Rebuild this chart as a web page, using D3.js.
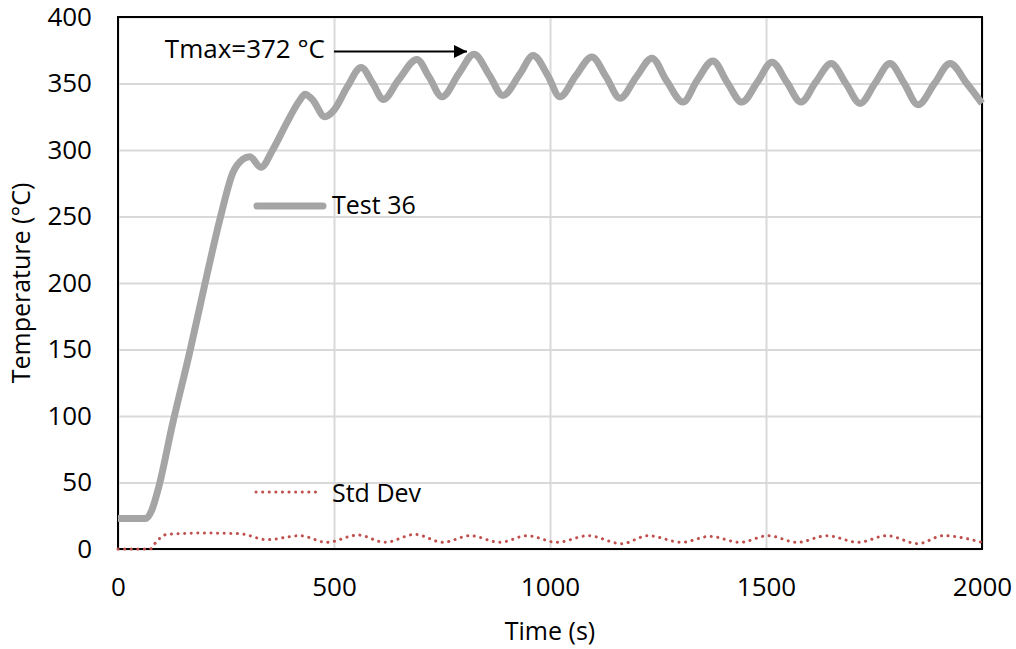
<!DOCTYPE html>
<html>
<head>
<meta charset="utf-8">
<script src="https://cdn.jsdelivr.net/npm/d3@7"></script>
<style>
body { margin: 0; background: #fff; }
text { font-family: "Open Sans", sans-serif; fill: #000; }
</style>
</head>
<body>
<script>
// Test 36 temperature trace (time s, temp °C)
var testTime = [0, 65, 78, 93, 127, 166, 201, 236, 266, 289, 305, 331, 358, 390, 420, 433, 450, 479, 500, 530, 563, 590, 614, 650, 692, 720, 750, 790, 824, 860, 891, 930, 961, 995, 1023, 1060, 1097, 1130, 1162, 1200, 1236, 1270, 1308, 1340, 1377, 1410, 1444, 1480, 1514, 1548, 1581, 1615, 1651, 1685, 1718, 1752, 1787, 1820, 1852, 1890, 1926, 1965, 2000];
var testTemp = [23, 23, 29, 45, 95, 148, 199, 248, 283, 293, 295, 287, 300, 320, 337, 342, 338, 325, 330, 347, 362, 350, 338, 353, 368, 355, 340, 358, 372, 356, 341, 357, 371, 356, 340, 356, 370, 355, 339, 355, 369, 352, 336, 352, 367, 351, 336, 351, 366, 351, 336, 351, 365, 350, 335, 350, 365, 350, 334, 350, 365, 350, 335];

// Std Dev trace
var sdTime = [0, 74, 90, 113, 200, 282, 345, 421, 483, 556, 618, 688, 752, 815, 884, 947, 1016, 1088, 1166, 1227, 1305, 1370, 1440, 1505, 1572, 1641, 1713, 1780, 1852, 1910, 2000];
var sdValue = [0, 0, 6, 11, 12, 11.5, 7, 10, 5, 10.5, 5, 11, 5, 10, 5, 10, 5, 10, 4, 10, 5, 9.5, 5, 10, 5, 10, 5, 10, 4, 10, 5];

var xTicks = [0, 500, 1000, 1500, 2000];
var yTicks = [0, 50, 100, 150, 200, 250, 300, 350, 400];

var margin = {left: 118, top: 17, right: 34, bottom: 100};
var W = 1016, H = 649;
var w = W - margin.left - margin.right, h = H - margin.top - margin.bottom;

var svg = d3.select('body').append('svg')
    .attr('width', W)
    .attr('height', H);

var g = svg.append('g').attr('transform', 'translate(' + margin.left + ',' + margin.top + ')');

var x = d3.scaleLinear().domain([0, 2000]).range([0, w]);
var y = d3.scaleLinear().domain([0, 400]).range([h, 0]);

// gridlines + tick labels
var yAxis = g.append('g')
    .call(d3.axisLeft(y).tickValues(yTicks).tickSize(-w).tickPadding(26).tickFormat(d3.format('d')));
var xAxis = g.append('g')
    .attr('transform', 'translate(0,' + h + ')')
    .call(d3.axisBottom(x).tickValues(xTicks).tickSize(-h).tickPadding(29).tickFormat(d3.format('d')));
[yAxis, xAxis].forEach(function(a) {
    a.select('.domain').remove();
    a.selectAll('line').attr('stroke', '#d9d9d9').attr('stroke-width', 2);
    a.selectAll('text').style('font-size', '26px');
});

// plot border
g.append('rect')
    .attr('width', w).attr('height', h)
    .attr('fill', 'none').attr('stroke', '#000').attr('stroke-width', 2);

var testLine = d3.line()
    .x(function(d, i) { return x(testTime[i]); })
    .y(function(d) { return y(d); })
    .curve(d3.curveMonotoneX);

g.append('path')
    .attr('d', testLine(testTemp))
    .attr('fill', 'none')
    .attr('stroke', '#a5a5a5')
    .attr('stroke-width', 7)
    .attr('stroke-linejoin', 'round');

var sdLine = d3.line()
    .x(function(d, i) { return x(sdTime[i]); })
    .y(function(d) { return y(d); })
    .curve(d3.curveMonotoneX);

g.append('path')
    .attr('d', sdLine(sdValue))
    .attr('fill', 'none')
    .attr('stroke', '#c0504d')
    .attr('stroke-width', 3)
    .attr('stroke-linecap', 'round')
    .attr('stroke-dasharray', '0.1 6.5');

// legend entries inside the plot
svg.append('line')
    .attr('x1', 257).attr('x2', 323).attr('y1', 206).attr('y2', 206)
    .attr('stroke', '#a5a5a5').attr('stroke-width', 7).attr('stroke-linecap', 'round');
svg.append('text').attr('x', 332).attr('y', 214).text('Test 36').style('font-size', '25px');

svg.append('line')
    .attr('x1', 256).attr('x2', 320).attr('y1', 492).attr('y2', 492)
    .attr('stroke', '#c0504d').attr('stroke-width', 3)
    .attr('stroke-linecap', 'round').attr('stroke-dasharray', '0.1 6.5');
svg.append('text').attr('x', 332).attr('y', 502).text('Std Dev').style('font-size', '25px');

// annotation
svg.append('defs').append('marker')
    .attr('id', 'arr').attr('viewBox', '0 0 10 10')
    .attr('refX', 10).attr('refY', 5)
    .attr('markerWidth', 15).attr('markerHeight', 13)
    .attr('markerUnits', 'userSpaceOnUse')
    .attr('orient', 'auto')
  .append('path').attr('d', 'M0,0L10,5L0,10z').attr('fill', '#000');
svg.append('text').attr('x', 325).attr('y', 58).attr('text-anchor', 'end')
    .text('Tmax=372 °C').style('font-size', '26px');
svg.append('line')
    .attr('x1', 334).attr('x2', 467).attr('y1', 51.5).attr('y2', 51.5)
    .attr('stroke', '#000').attr('stroke-width', 2)
    .attr('marker-end', 'url(#arr)');

// axis titles
svg.append('text')
    .attr('x', margin.left + w / 2).attr('y', 640)
    .attr('text-anchor', 'middle').text('Time (s)').style('font-size', '25px');
svg.append('text')
    .attr('transform', 'translate(30,' + (margin.top + h / 2) + ') rotate(-90)')
    .attr('text-anchor', 'middle').text('Temperature (°C)').style('font-size', '25px');
</script>
</body>
</html>
